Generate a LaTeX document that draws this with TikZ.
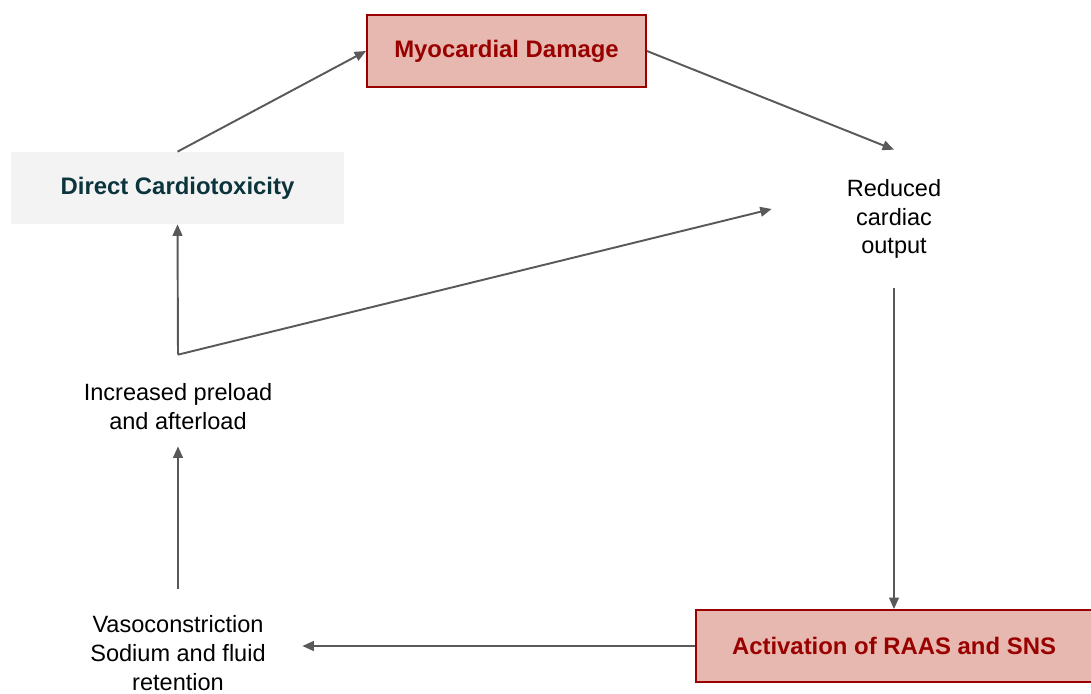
\documentclass[tikz,border=0pt]{standalone}
\usepackage{fontspec}
\setmainfont{Liberation Sans}
\usetikzlibrary{arrows.meta}
\definecolor{damagered}{HTML}{990000}
\definecolor{damagefill}{HTML}{E6B8AF}
\definecolor{toxfill}{HTML}{F3F3F3}
\definecolor{toxtext}{HTML}{0C343D}
\definecolor{flowgray}{HTML}{595959}
\tikzset{
	redbox/.style={draw=damagered, line width=1.1pt, fill=damagefill, text=damagered, inner sep=0pt, font=\fontsize{13.6}{16.4}\selectfont\bfseries},
	graybox/.style={fill=toxfill, text=toxtext, inner sep=0pt, font=\fontsize{13.6}{16.4}\selectfont\bfseries},
	plaintext/.style={align=center, inner sep=0pt, font=\fontsize{13.4}{16.4}\selectfont},
	flow/.style={draw=flowgray, line width=1.1pt, -{Triangle[length=6.5pt,width=5.5pt]}}
}

\begin{document}
\begin{tikzpicture}[x=0.02cm, y=-0.02cm]
		%%%%% START %%%%%
		\useasboundingbox (0, 0) rectangle (1091, 693);
		
		\node[redbox, minimum width=5.58cm, minimum height=1.44cm] (dmg) at (506.5, 51) {Myocardial Damage};
		\node[graybox, minimum width=6.66cm, minimum height=1.44cm] (tox) at (177.5, 188) {Direct Cardiotoxicity};
		\node[plaintext, minimum width=4.88cm, minimum height=2.76cm] (red) at (894, 219) {Reduced\\cardiac\\output};
		\node[redbox, minimum width=7.92cm, minimum height=1.44cm] (act) at (894, 646) {Activation of RAAS and SNS};
		\node[plaintext, minimum width=4.96cm, minimum height=2.56cm] (vaso) at (178, 653) {Vasoconstriction\\Sodium and fluid\\retention};
		\node[plaintext, minimum width=6.66cm, minimum height=2.06cm] (pre) at (178, 406.5) {Increased preload\\and afterload};
		
		\draw[flow] (tox.north) -- (dmg.west);
		\draw[flow] (dmg.east) -- (red.north);
		\draw[flow] (red.south) -- (act.north);
		\draw[flow] (act.west) -- (act.west -| vaso.east);
		\draw[flow] (vaso.north) -- ([yshift=0.24cm]pre.south);
		\draw[flow] (pre.north) -- (tox.south);
		\draw[flow] (pre.north) -- ([yshift=0.2cm]red.west);
		
		%%%%% END %%%%%
	\end{tikzpicture}
\end{document}
